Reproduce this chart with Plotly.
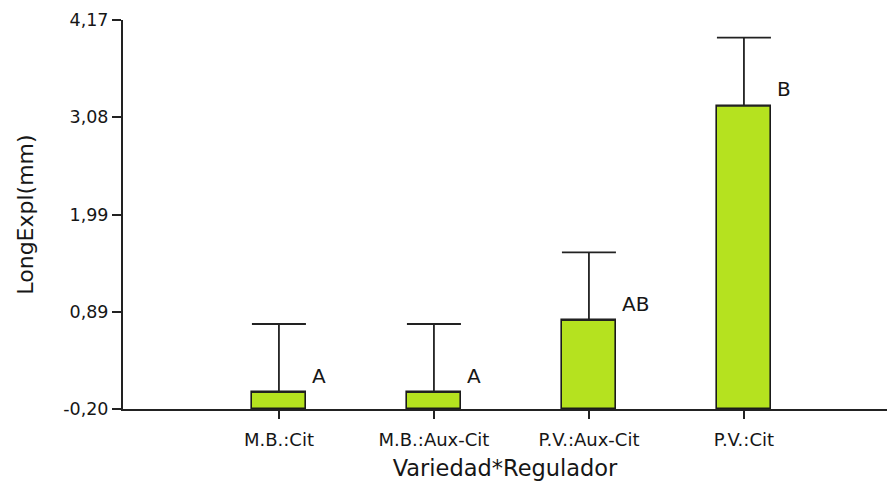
import plotly.graph_objects as go

categories = ["M.B.:Cit", "M.B.:Aux-Cit", "P.V.:Aux-Cit", "P.V.:Cit"]
means = [-0.01, -0.01, 0.80, 3.205]
err_plus = [0.765, 0.765, 0.76, 0.767]
letters = ["A", "A", "AB", "B"]

y_tick_vals = [-0.20, 0.8925, 1.985, 3.0775, 4.17]
y_tick_text = ["-0,20", "0,89", "1,99", "3,08", "4,17"]
y_min, y_max = -0.20, 4.17

FONT = "DejaVu Sans"
TXT = "#161616"

fig = go.Figure()
fig.add_trace(go.Bar(
    x=categories,
    y=[m - y_min for m in means],
    base=y_min,
    width=0.35,
    marker=dict(color="#B5E21F", line=dict(color="#1a1a1a", width=1.6)),
    showlegend=False,
    hoverinfo="skip",
))
fig.add_trace(go.Scatter(
    x=categories,
    y=means,
    mode="markers",
    marker=dict(size=1, color="rgba(0,0,0,0)"),
    error_y=dict(type="data", symmetric=False, array=err_plus,
                 arrayminus=[0] * len(means), color="#222222",
                 thickness=1.8, width=27),
    showlegend=False,
    hoverinfo="skip",
))

for i, (m, lab) in enumerate(zip(means, letters)):
    fig.add_annotation(x=i + 0.2, y=m + 0.185, text=lab, showarrow=False,
                       xanchor="left", yanchor="middle",
                       font=dict(family=FONT, size=20, color=TXT))

# page body has an 8px margin, so the figure is sized/offset to fit the window
fig.update_layout(
    width=879, height=473,
    margin=dict(l=115, r=0, t=12, b=72),
    plot_bgcolor="white", paper_bgcolor="white",
    font=dict(family=FONT, color=TXT),
    bargap=0,
)
fig.update_xaxes(
    range=[-1.006, 3.923],
    showline=True, linecolor="#222222", linewidth=2,
    ticks="outside", ticklen=8, tickwidth=2, tickcolor="#222222",
    ticklabelstandoff=5,
    tickfont=dict(family=FONT, size=18, color=TXT),
    showgrid=False, zeroline=False,
    title=dict(text="Variedad*Regulador", font=dict(family=FONT, size=22.5, color=TXT), standoff=13),
)
fig.update_yaxes(
    range=[y_min, y_max],
    tickmode="array", tickvals=y_tick_vals, ticktext=y_tick_text,
    showline=True, linecolor="#222222", linewidth=2,
    ticks="outside", ticklen=9, tickwidth=2, tickcolor="#222222",
    tickfont=dict(family=FONT, size=17.5, color=TXT),
    showgrid=False, zeroline=False,
    title=dict(text="LongExpl(mm)", font=dict(family=FONT, size=22, color=TXT), standoff=24),
)

fig.write_html("out.html")
